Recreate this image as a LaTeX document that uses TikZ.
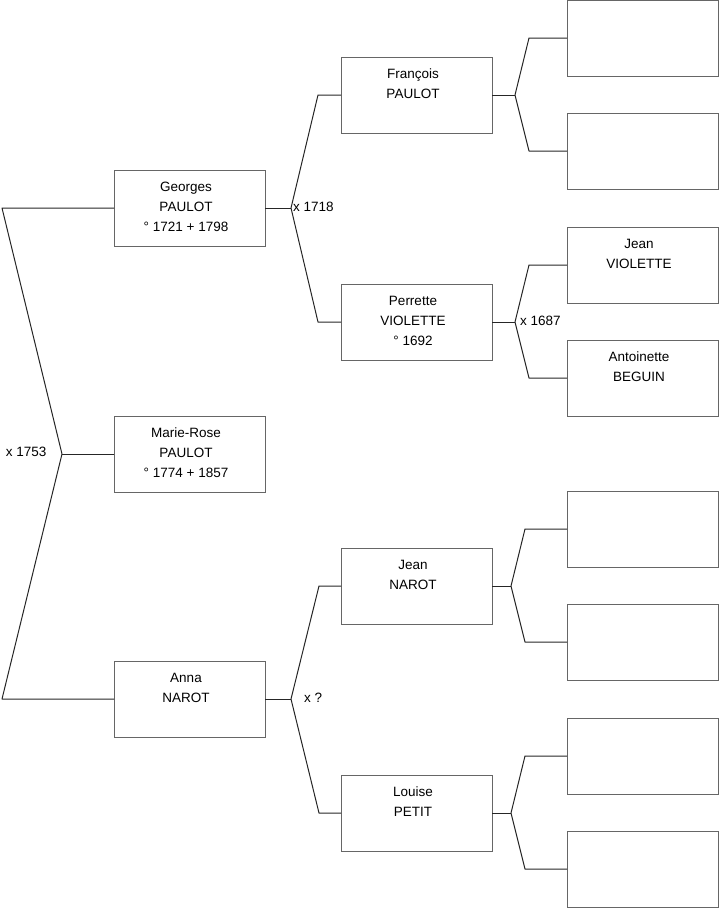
\documentclass[tikz,border=0pt]{standalone}
\usepackage{fontspec}
\setmainfont{Liberation Sans}
\begin{document}
\begin{tikzpicture}[x=1pt,y=-1pt,
  person/.style={draw=black!60, line width=1pt, minimum width=151pt, minimum height=76pt, inner sep=0pt, outer sep=0pt, anchor=north west},
  pname/.style={anchor=north, inner sep=0pt, align=center, font=\fontsize{13.5}{20}\selectfont, yshift=-7.5pt, xshift=-3.5pt},
  link/.style={draw=black!85, line width=1pt, line join=round},
  lab/.style={font=\fontsize{13.5}{20}\selectfont, inner sep=0pt}]
\useasboundingbox (0,0) rectangle (719,908);
% boxes
\node[person] (g) at (114,170) {};
\node[person] (mr) at (114,416) {};
\node[person] (an) at (114,661) {};
\node[person] (fr) at (341,57) {};
\node[person] (pe) at (341,284) {};
\node[person] (jn) at (341,548) {};
\node[person] (lo) at (341,775) {};
\node[person] (r1) at (567,0) {};
\node[person] (r2) at (567,113) {};
\node[person] (r3) at (567,227) {};
\node[person] (r4) at (567,340) {};
\node[person] (r5) at (567,491) {};
\node[person] (r6) at (567,604) {};
\node[person] (r7) at (567,718) {};
\node[person] (r8) at (567,831) {};
% texts
\node[pname] (gt) at (g.north) {\strut Georges\\PAULOT\\° 1721 + 1798};
\node[pname] (mrt) at (mr.north) {\strut Marie-Rose\\PAULOT\\° 1774 + 1857};
\node[pname] (ant) at (an.north) {\strut Anna\\NAROT};
\node[pname] (frt) at (fr.north) {\strut François\\PAULOT};
\node[pname] (pet) at (pe.north) {\strut Perrette\\VIOLETTE\\° 1692};
\node[pname] (jnt) at (jn.north) {\strut Jean\\NAROT};
\node[pname] (lot) at (lo.north) {\strut Louise\\PETIT};
\node[pname] (r3t) at (r3.north) {\strut Jean\\VIOLETTE};
\node[pname] (r4t) at (r4.north) {\strut Antoinette\\BEGUIN};
% junction coordinates
\coordinate (a0) at (62,454);
\coordinate (a1) at (2,208);
\coordinate (a2) at (2,699);
\coordinate (b0) at (291,208);
\coordinate (b1) at (318,95);
\coordinate (b2) at (318,322);
\coordinate (c0) at (291,699);
\coordinate (c1) at (319,586);
\coordinate (c2) at (319,813);
\coordinate (d0) at (515,95);
\coordinate (d1) at (529,38);
\coordinate (d2) at (529,151);
\coordinate (e0) at (515,322);
\coordinate (e1) at (529,265);
\coordinate (e2) at (529,378);
\coordinate (f0) at (511,586);
\coordinate (f1) at (525,529);
\coordinate (f2) at (525,642);
\coordinate (h0) at (511,813);
\coordinate (h1) at (525,756);
\coordinate (h2) at (525,869);
% connectors
\draw[link] (g.west) -- (a1) -- (a0) -- (a2) -- (an.west);
\draw[link] (a0) -- (mr.west);
\draw[link] (g.east) -- (b0);
\draw[link] (fr.west) -- (b1) -- (b0) -- (b2) -- (pe.west);
\draw[link] (an.east) -- (c0);
\draw[link] (jn.west) -- (c1) -- (c0) -- (c2) -- (lo.west);
\draw[link] (fr.east) -- (d0);
\draw[link] (r1.west) -- (d1) -- (d0) -- (d2) -- (r2.west);
\draw[link] (pe.east) -- (e0);
\draw[link] (r3.west) -- (e1) -- (e0) -- (e2) -- (r4.west);
\draw[link] (jn.east) -- (f0);
\draw[link] (r5.west) -- (f1) -- (f0) -- (f2) -- (r6.west);
\draw[link] (lo.east) -- (h0);
\draw[link] (r7.west) -- (h1) -- (h0) -- (h2) -- (r8.west);
% marriage labels
\node[lab, anchor=east] (m1753) at (46.5,452) {x 1753};
\node[lab, anchor=west] (m1718) at (293,207) {x 1718};
\node[lab, anchor=west] (m1687) at (520,321) {x 1687};
\node[lab, anchor=west] (mq) at (304,698) {x ?};
\end{tikzpicture}
\end{document}
